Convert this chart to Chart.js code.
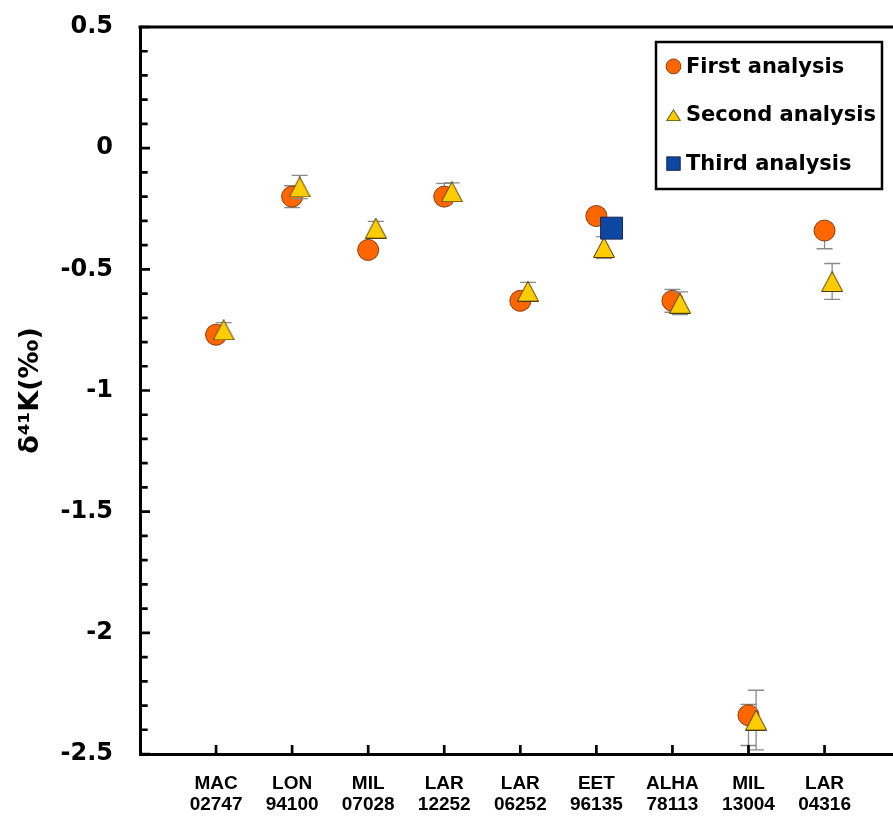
<!DOCTYPE html>
<html><head><meta charset="utf-8">
<script src="https://cdn.jsdelivr.net/npm/chart.js@4"></script>
<style>html,body{margin:0;padding:0;background:#fff;overflow:hidden}</style>
</head><body>
<canvas id="c" width="893" height="821"></canvas>
<script>
const categories = [["MAC","02747"],["LON","94100"],["MIL","07028"],["LAR","12252"],["LAR","06252"],["EET","96135"],["ALHA","78113"],["MIL","13004"],["LAR","04316"]];
const seriesNames = ["First analysis","Second analysis","Third analysis"];
const firstAnalysis = [-0.77,-0.20,-0.42,-0.20,-0.63,-0.28,-0.63,-2.34,-0.34];
const firstErrPlus  = [0.03,0.045,0.03,0.055,0.03,0.03,0.047,0.045,0.03];
const firstErrMinus = [0.03,0.045,0.03,0.03,0.03,0.03,0.047,0.125,0.075];
const secondAnalysis = [-0.75,-0.16,-0.33,-0.18,-0.59,-0.41,-0.64,-2.36,-0.55];
const secondErr = [0.03,0.048,0.028,0.037,0.036,0.045,0.047,0.123,0.074];
const thirdAnalysis = [null,null,null,null,null,-0.33,null,null,null];
const thirdErr = [null,null,null,null,null,0.03,null,null,null];
const yTickValues = [0.5,0,-0.5,-1,-1.5,-2,-2.5];
const yTickLabels = ["0.5","0","-0.5","-1","-1.5","-2","-2.5"];

function makeTriangle(w, h, fill, stroke) {
  const c = document.createElement('canvas');
  c.width = w; c.height = h;
  const g = c.getContext('2d');
  g.beginPath(); g.moveTo(w/2, 0.5); g.lineTo(w-0.5, h-0.5); g.lineTo(0.5, h-0.5); g.closePath();
  g.fillStyle = fill; g.fill(); g.lineWidth = 1; g.strokeStyle = stroke; g.stroke();
  return c;
}
const COL1 = '#FF6600', COL1B = '#8a3a10';
const COL2 = '#FFCC00', COL2B = '#4a3f10';
const COL3 = '#0D47A1', COL3B = '#1a2550';
const triBig = makeTriangle(22, 21, COL2, COL2B);
const triSmall = makeTriangle(15, 12, COL2, COL2B);

const offsets = [0, 0.1, 0.2];
function pts(arr, off) { return arr.map((v,i)=>({x:i+1+off, y:v})); }

const errorBars = {
  id:'errorBars',
  beforeDatasetDraw(chart, args) {
    const ds = chart.data.datasets[args.index];
    const ys = chart.scales.y, ctx = chart.ctx;
    ctx.save(); ctx.strokeStyle = '#8a8a8a'; ctx.lineWidth = 1.3;
    args.meta.data.forEach((pt, j) => {
      const v = ds.data[j].y;
      if (v == null || ds.errPlus[j] == null) return;
      const x = pt.x, y1 = ys.getPixelForValue(v + ds.errPlus[j]), y2 = ys.getPixelForValue(v - ds.errMinus[j]);
      ctx.beginPath();
      ctx.moveTo(x, y1); ctx.lineTo(x, y2);
      ctx.moveTo(x-8, y1); ctx.lineTo(x+8, y1);
      ctx.moveTo(x-8, y2); ctx.lineTo(x+8, y2);
      ctx.stroke();
    });
    ctx.restore();
  }
};

const frame = {
  id:'frame',
  afterDraw(chart) {
    const {ctx, chartArea:a, scales:{x, y}} = chart;
    ctx.save();
    ctx.strokeStyle = '#000';
    ctx.lineWidth = 3;
    ctx.beginPath(); ctx.moveTo(a.left - 1.5, a.top); ctx.lineTo(chart.width, a.top); ctx.stroke();
    ctx.lineWidth = 2.7;
    ctx.beginPath();
    for (let v = Math.round(y.min*10); v <= Math.round(y.max*10); v++) {
      const py = y.getPixelForValue(v/10);
      const len = (v % 5 === 0) ? 10 : 7.7;
      ctx.moveTo(a.left, py); ctx.lineTo(a.left + len, py);
    }
    categories.forEach((c, i) => {
      const px = x.getPixelForValue(i+1);
      ctx.moveTo(px, a.bottom); ctx.lineTo(px, a.bottom - 9);
    });
    ctx.stroke();
    // legend
    const L = 656, T = 42, W = 226, H = 147;
    ctx.fillStyle = '#fff'; ctx.fillRect(L, T, W, H);
    ctx.lineWidth = 2.5; ctx.strokeRect(L, T, W, H);
    ctx.font = 'bold 21px "DejaVu Sans"';
    ctx.textBaseline = 'middle'; ctx.textAlign = 'left'; ctx.fillStyle = '#000';
    chart.data.datasets.forEach((ds, i) => {
      const cy = 67.2 + 48.6*i, mx = 673.5;
      ctx.save();
      if (i === 0) {
        ctx.beginPath(); ctx.arc(mx, cy - 0.8, 7.4, 0, Math.PI*2);
        ctx.fillStyle = COL1; ctx.fill(); ctx.lineWidth = 1; ctx.strokeStyle = COL1B; ctx.stroke();
      } else if (i === 1) {
        ctx.drawImage(triSmall, mx - 7.5, cy - 6.5);
      } else {
        ctx.fillStyle = COL3; ctx.fillRect(mx - 6.7, cy - 7.5, 13.4, 13.4);
        ctx.lineWidth = 1; ctx.strokeStyle = COL3B; ctx.strokeRect(mx - 6.7, cy - 7.5, 13.4, 13.4);
      }
      ctx.restore();
      ctx.fillStyle = '#000';
      ctx.fillText(ds.label, 686, cy);
    });
    ctx.restore();
  }
};

new Chart(document.getElementById('c'), {
  type: 'scatter',
  data: {
    datasets: [
      { label: seriesNames[0], data: pts(firstAnalysis, offsets[0]), errPlus: firstErrPlus, errMinus: firstErrMinus,
        pointStyle: 'circle', pointRadius: 10.5, pointHoverRadius: 10.5, backgroundColor: COL1, borderColor: COL1B, borderWidth: 1, order: 3 },
      { label: seriesNames[1], data: pts(secondAnalysis, offsets[1]), errPlus: secondErr, errMinus: secondErr,
        pointStyle: triBig, pointRadius: 11, pointHoverRadius: 11, backgroundColor: COL2, borderColor: COL2B, borderWidth: 1, order: 2 },
      { label: seriesNames[2], data: pts(thirdAnalysis, offsets[2]), errPlus: thirdErr, errMinus: thirdErr,
        pointStyle: 'rect', pointRadius: 15.5, pointHoverRadius: 15.5, backgroundColor: COL3, borderColor: COL3B, borderWidth: 1, order: 1 }
    ]
  },
  options: {
    responsive: false,
    animation: false,
    events: [],
    layout: { autoPadding: false, padding: { top: 27, left: 0, right: 0, bottom: 0 } },
    plugins: { legend: { display: false }, tooltip: { enabled: false } },
    scales: {
      x: {
        type: 'linear', min: 0, max: 9.9,
        grid: { display: false, drawTicks: false },
        border: { display: true, color: '#000', width: 3 },
        afterBuildTicks(s) { s.ticks = categories.map((c, i) => ({ value: i + 1 })); },
        afterFit(s) { s.height = 67; s.paddingLeft = 0; s.paddingRight = 0; },
        ticks: {
          autoSkip: false, maxRotation: 0, padding: 19, color: '#000',
          font: { family: '"Liberation Sans", Arial, sans-serif', weight: 'bold', size: 19, lineHeight: 1.13 },
          callback(v) { const i = Math.round(v) - 1; return categories[i] || ''; }
        }
      },
      y: {
        min: -2.5, max: 0.5,
        grid: { display: false, drawTicks: false },
        border: { display: true, color: '#000', width: 3 },
        afterBuildTicks(s) { s.ticks = yTickValues.map(v => ({ value: v })); },
        afterFit(s) { s.width = 140; s.paddingTop = 0; s.paddingBottom = 0; },
        ticks: {
          padding: 27, color: '#000',
          font: { family: '"DejaVu Sans"', weight: 'bold', size: 24 },
          callback(v) { const k = yTickValues.indexOf(v); return k >= 0 ? yTickLabels[k] : ''; }
        },
        title: {
          display: true, text: 'δ⁴¹K(‰)', color: '#000',
          padding: { top: 15, bottom: 0 },
          font: { family: '"DejaVu Sans"', weight: 'bold', size: 27 }
        }
      }
    }
  },
  plugins: [errorBars, frame]
});
</script>
</body></html>
